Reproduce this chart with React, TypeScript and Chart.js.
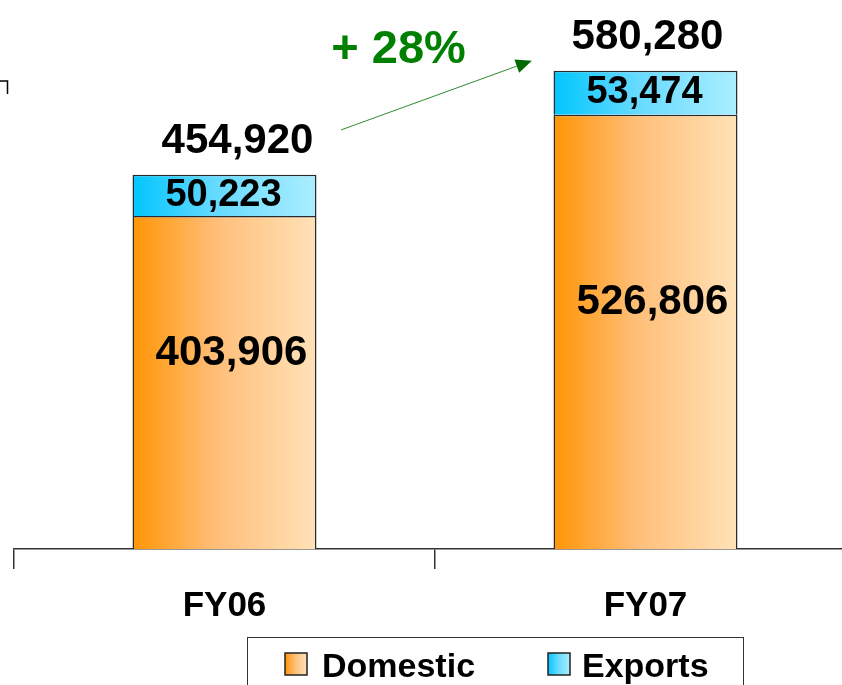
import React, { useEffect, useRef } from 'react';
import { Chart, registerables } from 'chart.js';

Chart.register(...registerables);

const categories = ['FY06', 'FY07'];
const domestic = [403906, 526806];
const exportsVals = [50223, 53474];
const totals = [454920, 580280];
const seriesNames = ['Domestic', 'Exports'];
const growthLabel = '+ 28%';

const FONT = '"Liberation Sans", Arial, Helvetica, sans-serif';
const BAR_PCT = 0.437;
const DOM_STOPS: [number, string][] = [[0, '#FF9505'], [0.45, '#FFBE78'], [1, '#FFE2B8']];
const EXP_STOPS: [number, string][] = [[0, '#00C6FF'], [0.45, '#66DAFF'], [1, '#ABEEFF']];

const fmt = (v: number) => v.toLocaleString('en-US');

function gradientFor(ctx: any, stops: [number, string][]) {
  const chart = ctx.chart;
  const xs = chart.scales && chart.scales.x;
  if (!xs || !chart.chartArea || typeof ctx.dataIndex !== 'number') return stops[0][1];
  const c = xs.getPixelForValue(ctx.dataIndex);
  const w = (xs.width / categories.length) * BAR_PCT;
  const g = chart.ctx.createLinearGradient(c - w / 2, 0, c + w / 2, 0);
  stops.forEach(([o, col]) => g.addColorStop(o, col));
  return g;
}

const labelsPlugin = {
  id: 'valueLabels',
  afterDatasetsDraw(chart: any) {
    const { ctx } = chart;
    const xs = chart.scales.x;
    const ys = chart.scales.y;
    ctx.save();
    ctx.fillStyle = '#000';
    ctx.textAlign = 'center';
    ctx.textBaseline = 'alphabetic';
    const totalShift = [13, 2];
    categories.forEach((_, i) => {
      const c = xs.getPixelForValue(i);
      const y0 = ys.getPixelForValue(0);
      const yd = ys.getPixelForValue(domestic[i]);
      const yt = ys.getPixelForValue(domestic[i] + exportsVals[i]);
      ctx.font = `bold 42px ${FONT}`;
      ctx.fillText(fmt(domestic[i]), c + 7, (y0 + yd) / 2 - 33 + 15);
      ctx.fillText(fmt(totals[i]), c + totalShift[i], yt - 37 + 15);
      ctx.font = `bold 38px ${FONT}`;
      ctx.fillText(fmt(exportsVals[i]), c - 1, (yd + yt) / 2 - 3 + 13.5);
    });

    // growth arrow
    const sx = xs.getPixelForValue(0.277), sy = ys.getPixelForValue(508500);
    const ex = xs.getPixelForValue(0.73), ey = ys.getPixelForValue(592500);
    const ang = Math.atan2(ey - sy, ex - sx);
    const hl = 16, hw = 7;
    const bx = ex - hl * Math.cos(ang), by = ey - hl * Math.sin(ang);
    ctx.strokeStyle = '#2E8B2E';
    ctx.lineWidth = 1;
    ctx.beginPath();
    ctx.moveTo(sx, sy);
    ctx.lineTo(bx, by);
    ctx.stroke();
    ctx.fillStyle = '#006A00';
    ctx.beginPath();
    ctx.moveTo(ex, ey);
    ctx.lineTo(bx + hw * Math.sin(ang), by - hw * Math.cos(ang));
    ctx.lineTo(bx - hw * Math.sin(ang), by + hw * Math.cos(ang));
    ctx.closePath();
    ctx.fill();

    ctx.fillStyle = '#008000';
    ctx.font = `bold 47px ${FONT}`;
    ctx.fillText(growthLabel, xs.getPixelForValue(0.4134), ys.getPixelForValue(610400) + 17);
    ctx.restore();
  },
  afterDraw(chart: any) {
    const { ctx } = chart;
    ctx.save();
    // corner mark
    ctx.strokeStyle = '#000';
    ctx.lineWidth = 1.5;
    ctx.beginPath();
    ctx.moveTo(0, 81);
    ctx.lineTo(7.5, 81);
    ctx.lineTo(7.5, 94);
    ctx.stroke();

    // legend
    ctx.strokeStyle = '#333';
    ctx.lineWidth = 1;
    ctx.strokeRect(247.5, 637.5, 496, 70);
    const items = [
      { name: seriesNames[0], stops: DOM_STOPS, sx: 285, tx: 322 },
      { name: seriesNames[1], stops: EXP_STOPS, sx: 548, tx: 582 },
    ];
    items.forEach((it) => {
      const g = ctx.createLinearGradient(it.sx, 0, it.sx + 22, 0);
      it.stops.forEach(([o, col]) => g.addColorStop(o, col));
      ctx.fillStyle = g;
      ctx.fillRect(it.sx, 653, 22, 22);
      ctx.strokeStyle = '#222';
      ctx.lineWidth = 1.5;
      ctx.strokeRect(it.sx, 653, 22, 22);
      ctx.fillStyle = '#000';
      ctx.font = `bold 34px ${FONT}`;
      ctx.textAlign = 'left';
      ctx.textBaseline = 'alphabetic';
      ctx.fillText(it.name, it.tx, 677);
    });
    ctx.restore();
  },
};

export default function App() {
  const ref = useRef<HTMLCanvasElement | null>(null);
  useEffect(() => {
    if (!ref.current) return;
    const chart = new Chart(ref.current, {
      type: 'bar',
      data: {
        labels: categories,
        datasets: [
          {
            label: seriesNames[0],
            data: domestic,
            backgroundColor: (c: any) => gradientFor(c, DOM_STOPS),
            borderColor: '#2a2a2a',
            borderWidth: 1.5,
            categoryPercentage: 1,
            barPercentage: BAR_PCT,
          },
          {
            label: seriesNames[1],
            data: exportsVals,
            backgroundColor: (c: any) => gradientFor(c, EXP_STOPS),
            borderColor: '#2a2a2a',
            borderWidth: 1.5,
            categoryPercentage: 1,
            barPercentage: BAR_PCT,
          },
        ],
      },
      options: {
        responsive: false,
        animation: false,
        devicePixelRatio: 1,
        layout: { padding: { left: 14, right: 14, top: 38, bottom: 0 } },
        plugins: { legend: { display: false }, tooltip: { enabled: false } },
        scales: {
          x: {
            stacked: true,
            offset: true,
            grid: {
              display: true,
              drawOnChartArea: false,
              drawTicks: true,
              tickLength: 20,
              color: '#333',
              lineWidth: 1.5,
              offset: true,
            },
            border: { display: true, color: '#333', width: 1.5 },
            ticks: { color: '#000', font: { family: FONT, size: 35, weight: 'bold' }, padding: 16 },
            afterFit: (s: any) => {
              s.height = 136;
            },
          },
          y: { stacked: true, display: false, min: 0, max: 620000 },
        },
      },
      plugins: [labelsPlugin],
    } as any);
    return () => chart.destroy();
  }, []);
  return (
    <div style={{ position: 'fixed', left: 0, top: 0, width: 842, height: 685, overflow: 'hidden', background: '#fff' }}>
      <canvas ref={ref} width={870} height={685} style={{ display: 'block', width: 870, height: 685 }} />
    </div>
  );
}
